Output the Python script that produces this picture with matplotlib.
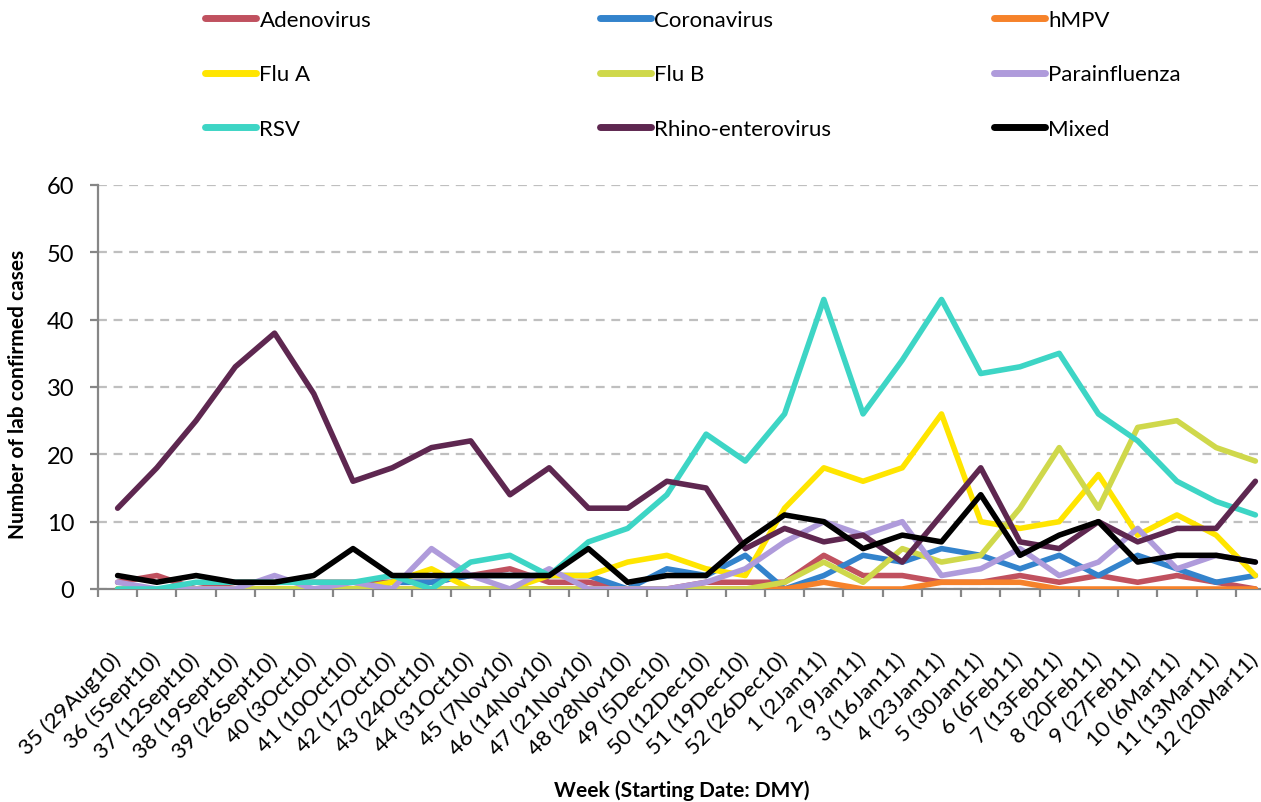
import numpy as np
import matplotlib
matplotlib.use("Agg")
import matplotlib.pyplot as plt
from matplotlib.lines import Line2D


weeks = ["35 (29Aug10)", "36 (5Sept10)", "37 (12Sept10)", "38 (19Sept10)", "39 (26Sept10)",
         "40 (3Oct10)", "41 (10Oct10)", "42 (17Oct10)", "43 (24Oct10)", "44 (31Oct10)",
         "45 (7Nov10)", "46 (14Nov10)", "47 (21Nov10)", "48 (28Nov10)", "49 (5Dec10)",
         "50 (12Dec10)", "51 (19Dec10)", "52 (26Dec10)", "1 (2Jan11)", "2 (9Jan11)",
         "3 (16Jan11)", "4 (23Jan11)", "5 (30Jan11)", "6 (6Feb11)", "7 (13Feb11)",
         "8 (20Feb11)", "9 (27Feb11)", "10 (6Mar11)", "11 (13Mar11)", "12 (20Mar11)"]

adenovirus = [1, 2, 0, 1, 1, 1, 1, 1, 1, 2, 3, 1, 1, 0, 0, 1, 1, 1, 5, 2, 2, 1, 1, 2, 1, 2, 1, 2, 1, 0]
coronavirus = [0, 0, 0, 0, 0, 0, 0, 1, 1, 2, 2, 2, 2, 0, 3, 2, 5, 0, 2, 5, 4, 6, 5, 3, 5, 2, 5, 3, 1, 2]
hmpv = [0, 0, 0, 0, 0, 0, 0, 0, 0, 0, 0, 0, 0, 0, 0, 0, 0, 0, 1, 0, 0, 1, 1, 1, 0, 0, 0, 0, 0, 0]
flu_a = [0, 0, 0, 0, 0, 0, 0, 1, 3, 0, 0, 2, 2, 4, 5, 3, 2, 12, 18, 16, 18, 26, 10, 9, 10, 17, 8, 11, 8, 2]
flu_b = [0, 0, 0, 0, 0, 0, 0, 0, 0, 0, 0, 0, 0, 0, 0, 0, 0, 1, 4, 1, 6, 4, 5, 12, 21, 12, 24, 25, 21, 19]
parainfluenza = [1, 0, 0, 0, 2, 0, 1, 0, 6, 2, 0, 3, 0, 0, 0, 1, 3, 7, 10, 8, 10, 2, 3, 6, 2, 4, 9, 3, 5, 4]
rsv = [0, 0, 1, 1, 1, 1, 1, 2, 0, 4, 5, 2, 7, 9, 14, 23, 19, 26, 43, 26, 34, 43, 32, 33, 35, 26, 22, 16, 13, 11]
rhino = [12, 18, 25, 33, 38, 29, 16, 18, 21, 22, 14, 18, 12, 12, 16, 15, 6, 9, 7, 8, 4, 11, 18, 7, 6, 10, 7, 9, 9, 16]
mixed = [2, 1, 2, 1, 1, 2, 6, 2, 2, 2, 2, 2, 6, 1, 2, 2, 7, 11, 10, 6, 8, 7, 14, 5, 8, 10, 4, 5, 5, 4]

series_names = ["Adenovirus", "Coronavirus", "hMPV", "Flu A", "Flu B", "Parainfluenza",
                "RSV", "Rhino-enterovirus", "Mixed"]
series_colors = ["#C0515F", "#3383CC", "#F6822A", "#FFE500", "#CFD84B", "#AF9BDB",
                 "#3DD5C5", "#5E2750", "#000000"]


def main():
    plt.rcParams['font.family'] = ['Lato', 'DejaVu Sans']

    series = [adenovirus, coronavirus, hmpv, flu_a, flu_b, parainfluenza, rsv, rhino, mixed]

    fig = plt.figure(figsize=(12.61, 8.03), dpi=100)
    ax = fig.add_axes([98/1261, 1-590/803, (1275-98)/1261, (590-186)/803])

    x = np.arange(len(weeks))
    for vals, name, col in zip(series, series_names, series_colors):
        ax.plot(x, vals, color=col, lw=4, label=name,
                solid_capstyle='round', solid_joinstyle='round', zorder=3)

    ax.set_xlim(-0.5, len(weeks) - 0.5)
    ax.set_ylim(0, 60)
    ax.set_yticks(range(0, 61, 10))
    ax.yaxis.grid(True, color="#BFBFBF", lw=1.6, ls=(0, (4, 3)))
    ax.set_axisbelow(True)

    for s in ["top", "right"]:
        ax.spines[s].set_visible(False)
    for s in ["left", "bottom"]:
        ax.spines[s].set_color("#868686")
        ax.spines[s].set_linewidth(1.6)

    # labels centred on categories, ticks on the boundaries
    ax.set_xticks(x)
    ax.set_xticklabels(weeks, rotation=45, ha='right', va='center', rotation_mode='anchor', fontsize=16)
    ax.set_xticks(np.arange(-0.5, len(weeks), 1), minor=True)
    ax.tick_params(axis='x', which='major', length=0, pad=48)
    ax.tick_params(axis='x', which='minor', length=6, width=1.6, color="#868686")
    ax.tick_params(axis='y', length=6, width=1.6, color="#868686", labelsize=17, pad=11)

    fig.text(18/1261, 1-394/803, "Number of lab confirmed cases", rotation=90,
             ha='center', va='center', fontsize=15, fontweight='bold')
    fig.text(682/1261, 1-791/803, "Week (Starting Date: DMY)",
             ha='center', va='center', fontsize=15, fontweight='bold')

    # legend: three columns placed by hand
    col_x = [205, 600, 994]
    for c in range(3):
        handles = []
        labels = []
        for r in range(3):
            i = r*3 + c
            handles.append(Line2D([], [], color=series_colors[i], lw=5, solid_capstyle='round'))
            labels.append(series_names[i])
        fig.legend(handles, labels, loc='upper left', bbox_to_anchor=(col_x[c]/1261, 1-11/803),
                   frameon=False, fontsize=16, handlelength=2.3, handletextpad=0.15,
                   borderpad=0, borderaxespad=0, labelspacing=1.55)

    fig.savefig("out.png", dpi=100)


if __name__ == '__main__':
    main()
